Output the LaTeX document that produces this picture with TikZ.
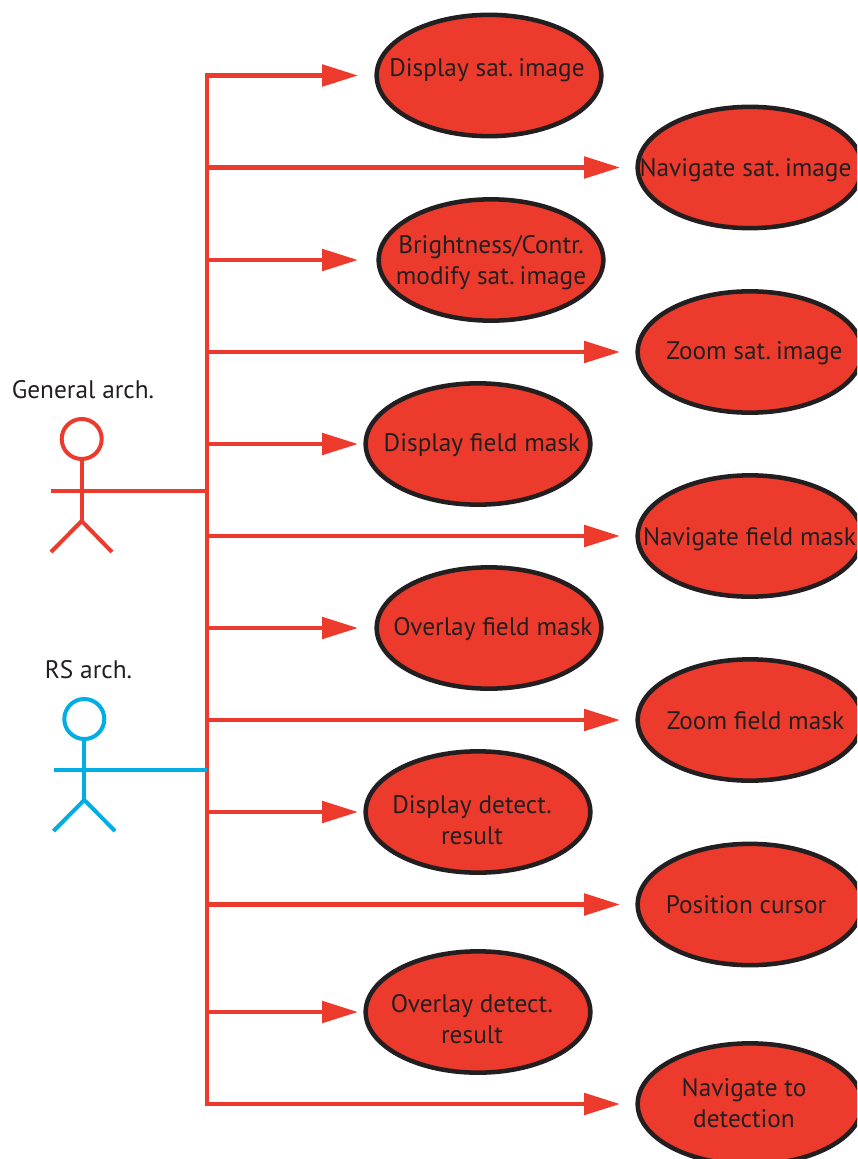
\documentclass[tikz,border=0pt]{standalone}
\usepackage{fontspec}
\setmainfont{PT Sans}
\usetikzlibrary{shapes.geometric,arrows.meta}
\definecolor{ucred}{HTML}{EC3B2C}
\definecolor{ucblue}{HTML}{00AEE3}
\definecolor{inkk}{HTML}{231F20}
\newcommand{\tightsp}{\hspace{-3pt}}
\tikzset{
  x=0.75pt,y=-0.75pt,
  oval/.style={ellipse,draw=inkk,fill=ucred,line width=3.4pt,minimum width=168.5pt,minimum height=91pt,inner sep=0pt,outer sep=0pt},
  ut/.style={text=inkk,font=\fontsize{19pt}{23.2pt}\selectfont,align=center,inner sep=0pt},
  flow/.style={draw=ucred,line width=3.3pt,-{Triangle[length=27pt,width=16pt,fill=ucred]}},
  trunkline/.style={draw=ucred,line width=3.6pt,line cap=rect},
  redline/.style={draw=ucred,line width=3pt},
  blueline/.style={draw=ucblue,line width=3pt},
}
\begin{document}
\begin{tikzpicture}
\useasboundingbox (0,0) rectangle (857,1159);
\clip (0,0) rectangle (857,1159);
% use-case ovals
\node[oval] (e1) at (489,75.5) {};
\node[oval] (e2) at (750,167.5) {};
\node[oval] (e3) at (491,260) {};
\node[oval] (e4) at (750,352) {};
\node[oval] (e5) at (478,444) {};
\node[oval] (e6) at (750,536) {};
\node[oval] (e7) at (489,628) {};
\node[oval] (e8) at (750,720) {};
\node[oval] (e9) at (478,812) {};
\node[oval] (e10) at (750,904.5) {};
\node[oval] (e11) at (478,1012) {};
\node[oval] (e12) at (750,1104) {};
% labels
\node[ut] (l1) at (487,70) {Display sat.\tightsp{} image};
\node[ut] (l2) at (745.5,170) {Navigate sat.\tightsp{} image};
\node[ut] (l3) at (491,262.5) {Brightness/Contr.\\modify sat.\tightsp{} image};
\node[ut] (l4) at (754.5,353.5) {Zoom sat.\tightsp{} image};
\node[ut] (l5) at (482,445.5) {Display field mask};
\node[ut] (l6) at (749.5,539) {Navigate field mask};
\node[ut] (l7) at (493,629.5) {Overlay field mask};
\node[ut] (l8) at (755.5,720.5) {Zoom field mask};
\node[ut] (l9) at (472,820) {Display detect.\\result};
\node[ut] (l10) at (746,905) {Position cursor};
\node[ut] (l11) at (472,1019.5) {Overlay detect.\\result};
\node[ut] (l12) at (744,1103) {Navigate to\\detection};
\node[ut] (a1) at (83,390) {General arch.};
\node[ut] (a2) at (88.5,670) {RS arch.};
% trunk and branch ends
\foreach \i/\y/\tip in {1/75.5/358,2/167.5/620,3/260/358,4/352/620,5/444/358,6/536/620,7/628/358,8/720/620,9/812/358,10/904.5/620,11/1012/358,12/1104/620}{
  \coordinate (t\i) at (207,\y);
  \coordinate (p\i) at (\tip,\y);
}
\coordinate (ta) at (207,490.5);
\coordinate (tb) at (207,769.5);
\foreach \i in {1,...,12}{\draw[flow] (t\i) -- (p\i);}
\draw[trunkline] (t1) -- (t12);
% general architect
\node[circle,draw=ucred,line width=3pt,minimum size=30pt,inner sep=0pt] (h1) at (81.7,439) {};
\coordinate (c1) at (81.7,521);
\coordinate (f1a) at (51,552);
\coordinate (f1b) at (112,552);
\coordinate (s1) at (51,490.5);
\draw[redline] (h1) -- (c1);
\draw[redline] (f1a) -- (c1) -- (f1b);
\draw[redline] (s1) -- (ta);
% remote sensing architect
\node[circle,draw=ucblue,line width=3pt,minimum size=30pt,inner sep=0pt] (h2) at (84.3,719) {};
\coordinate (c2) at (84.3,800);
\coordinate (f2a) at (53.5,831);
\coordinate (f2b) at (115,831);
\coordinate (s2) at (53.5,769.5);
\draw[blueline] (h2) -- (c2);
\draw[blueline] (f2a) -- (c2) -- (f2b);
\draw[blueline] (s2) -- (tb);
\end{tikzpicture}
\end{document}
